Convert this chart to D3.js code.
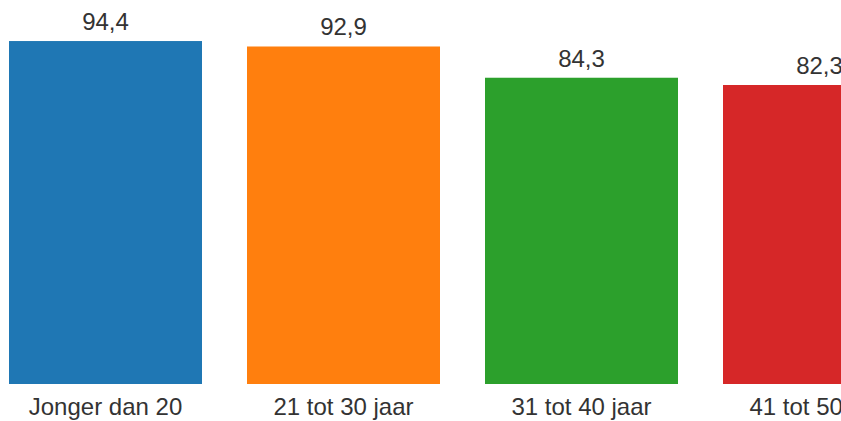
<!DOCTYPE html>
<html>
<head>
<meta charset="utf-8">
<script src="https://cdn.jsdelivr.net/npm/d3@7"></script>
<style>
  html, body { margin: 0; padding: 0; background: #fff; }
  svg { display: block; }
</style>
</head>
<body>
<svg id="chart" width="841" height="421"></svg>
<script>
const categories = ["Jonger dan 20", "21 tot 30 jaar", "31 tot 40 jaar", "41 tot 50 jaar"];
const values = [94.4, 92.9, 84.3, 82.3];
const colors = ["#1f77b4", "#ff7f0e", "#2ca02c", "#d62728"];

const svg = d3.select("#chart");
const nl = d3.formatLocale({decimal: ",", thousands: ".", grouping: [3], currency: ["€", ""]});
const fmt = nl.format(".1f");

const step = 238, pad = 45 / 238, x0 = 9;
const x = d3.scaleBand()
  .domain(categories)
  .range([x0, x0 + step * (categories.length - pad)])
  .paddingInner(pad)
  .paddingOuter(0);

const y = d3.scaleLinear().domain([0, 100]).range([384, 20.7]);

const data = categories.map((c, i) => ({c, v: values[i], col: colors[i]}));

svg.selectAll("rect.bar").data(data).join("rect")
  .attr("class", "bar")
  .attr("x", d => x(d.c))
  .attr("y", d => y(d.v))
  .attr("width", x.bandwidth())
  .attr("height", d => y(0) - y(d.v))
  .attr("fill", d => d.col);

svg.selectAll("text.val").data(data).join("text")
  .attr("class", "val")
  .attr("x", d => x(d.c) + x.bandwidth() / 2)
  .attr("y", d => y(d.v) - 11)
  .attr("text-anchor", "middle")
  .attr("font-family", "Liberation Sans, Arial, sans-serif")
  .attr("font-size", 24)
  .attr("fill", "#333")
  .text(d => fmt(d.v));

const xAxis = d3.axisBottom(x).tickSize(0).tickPadding(0);
const g = svg.append("g").attr("transform", "translate(0,384)").call(xAxis);
g.select(".domain").remove();
g.selectAll("text")
  .attr("font-family", "Liberation Sans, Arial, sans-serif")
  .attr("font-size", 24)
  .attr("fill", "#333")
  .attr("dy", null)
  .attr("y", 31);
</script>
</body>
</html>
